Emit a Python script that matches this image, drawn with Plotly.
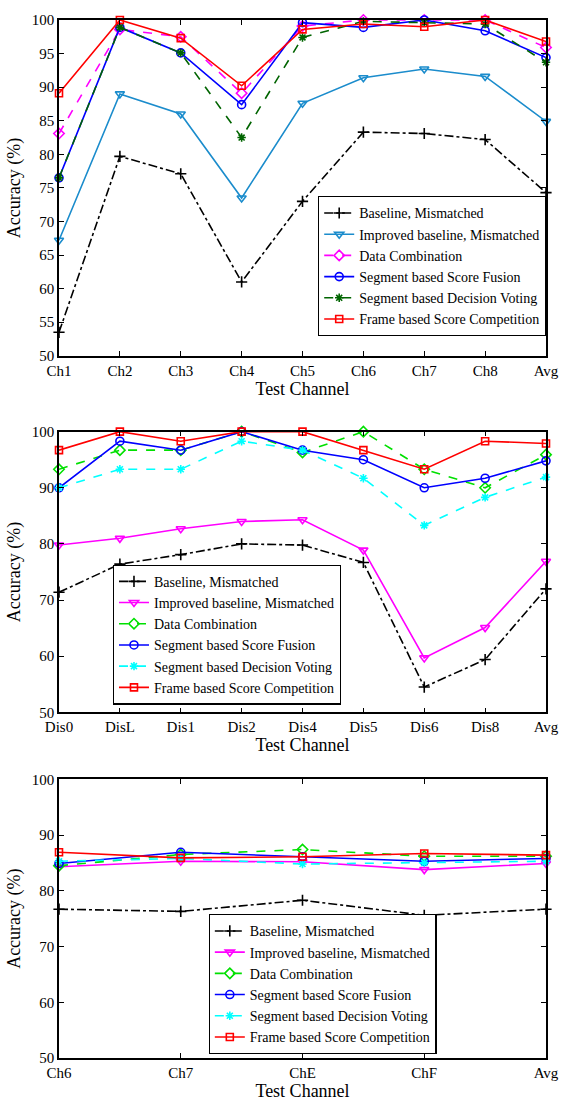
import plotly.graph_objects as go

# ---------------- data ----------------
names = ["Baseline, Mismatched", "Improved baseline, Mismatched", "Data Combination",
         "Segment based Score Fusion", "Segment based Decision Voting",
         "Frame based Score Competition"]

cats1 = ["Ch1", "Ch2", "Ch3", "Ch4", "Ch5", "Ch6", "Ch7", "Ch8", "Avg"]
p1_baseline = [53.5, 79.7, 77.1, 61.0, 73.0, 83.3, 83.1, 82.2, 74.3]
p1_improved = [67.2, 89.0, 86.0, 73.5, 87.6, 91.4, 92.7, 91.6, 84.9]
p1_datacomb = [83.1, 98.6, 97.5, 89.1, 99.1, 100.0, 100.0, 100.0, 95.9]
p1_fusion = [76.5, 98.9, 95.1, 87.4, 99.6, 98.9, 100.0, 98.4, 94.4]
p1_voting = [76.5, 98.9, 95.1, 82.5, 97.4, 99.8, 99.6, 99.4, 93.7]
p1_frame = [89.1, 100.0, 97.3, 90.2, 98.6, 99.4, 99.0, 100.0, 96.8]

cats2 = ["Dis0", "DisL", "Dis1", "Dis2", "Dis4", "Dis5", "Dis6", "Dis8", "Avg"]
p2_baseline = [71.4, 76.4, 78.1, 80.0, 79.8, 76.7, 54.5, 59.4, 72.0]
p2_improved = [79.8, 81.0, 82.7, 84.0, 84.3, 78.9, 59.7, 65.1, 76.9]
p2_datacomb = [93.3, 96.7, 96.7, 100.0, 96.3, 100.0, 93.3, 90.0, 95.9]
p2_fusion = [90.0, 98.3, 96.7, 100.0, 96.7, 95.0, 90.0, 91.7, 94.8]
p2_voting = [90.0, 93.3, 93.3, 98.3, 96.7, 91.7, 83.3, 88.3, 91.9]
p2_frame = [96.7, 100.0, 98.3, 100.0, 100.0, 96.7, 93.3, 98.3, 97.9]

cats3 = ["Ch6", "Ch7", "ChE", "ChF", "Avg"]
p3_baseline = [76.7, 76.3, 78.3, 75.6, 76.7]
p3_improved = [84.3, 85.3, 85.2, 83.8, 84.9]
p3_datacomb = [84.5, 86.5, 87.4, 86.2, 86.2]
p3_fusion = [84.9, 86.9, 86.1, 85.3, 85.8]
p3_voting = [85.3, 85.8, 84.8, 85.0, 85.3]
p3_frame = [86.9, 85.9, 86.1, 86.7, 86.4]

yticks1 = [50, 55, 60, 65, 70, 75, 80, 85, 90, 95, 100]
yticks23 = [50, 60, 70, 80, 90, 100]

# ---------------- styles ----------------
FONT = "Liberation Serif, Times New Roman, serif"
symbols = ["cross-thin-open", "triangle-down-open", "diamond-open",
           "circle-open", "asterisk-open", "square-open"]
sizes = [8, 8, 8, 8, 7, 7]
dashes = ["dashdot", "solid", "dash", "solid", "dash", "solid"]
colors1 = ["black", "#1b8ccc", "#ff00ff", "#0000ff", "#006400", "#ff0000"]
colors23 = ["black", "#ff00ff", "#00e000", "#0000ff", "#00ffff", "#ff0000"]

fig = go.Figure()

panels = [
    (cats1, [p1_baseline, p1_improved, p1_datacomb, p1_fusion, p1_voting, p1_frame], colors1, "", "legend"),
    (cats2, [p2_baseline, p2_improved, p2_datacomb, p2_fusion, p2_voting, p2_frame], colors23, "2", "legend2"),
    (cats3, [p3_baseline, p3_improved, p3_datacomb, p3_fusion, p3_voting, p3_frame], colors23, "3", "legend3"),
]

for cats, series, cols, ax, leg in panels:
    for i, (nm, ys) in enumerate(zip(names, series)):
        fig.add_trace(go.Scatter(
            x=cats, y=ys, name=nm, mode="lines+markers",
            xaxis="x" + ax, yaxis="y" + ax, legend=leg,
            line=dict(color=cols[i], width=1.6, dash=dashes[i]),
            marker=dict(symbol=symbols[i], size=sizes[i],
                        color=cols[i], line=dict(color=cols[i], width=1.6)),
            cliponaxis=False,
        ))

# domains
H = 1054.0
def dom(top_px, bot_px):
    return [(1069 - bot_px) / H, (1069 - top_px) / H]

axis_common = dict(showline=True, linecolor="black", linewidth=1.5, mirror="ticks",
                   ticks="inside", ticklen=5, tickcolor="black", showgrid=False,
                   zeroline=False, tickfont=dict(family=FONT, size=15, color="black"))

def xaxis(cats, anchor):
    return dict(axis_common, type="category", range=[0, len(cats) - 1], anchor=anchor,
                domain=[0, 1], ticklabelstandoff=0,
                title=dict(text="Test Channel", font=dict(family=FONT, size=18, color="black"),
                           standoff=0))

def yaxis(ticks, domain, anchor):
    return dict(axis_common, range=[50, 100], tickvals=ticks, domain=domain, anchor=anchor,
                title=dict(text="Accuracy (%)", font=dict(family=FONT, size=18, color="black"),
                           standoff=6))

legend_common = dict(bgcolor="white", bordercolor="black", borderwidth=1.2,
                     font=dict(family=FONT, size=14, color="black"),
                     yanchor="middle", tracegroupgap=0, itemwidth=30)

fig.update_layout(
    width=571, height=1105,
    margin=dict(l=59, r=14, t=15, b=36),
    paper_bgcolor="white", plot_bgcolor="white",
    xaxis=xaxis(cats1, "y"),
    yaxis=yaxis(yticks1, dom(15, 356), "x"),
    xaxis2=xaxis(cats2, "y2"),
    yaxis2=yaxis(yticks23, dom(433, 718), "x2"),
    xaxis3=xaxis(cats3, "y3"),
    yaxis3=yaxis(yticks23, dom(786, 1069), "x3"),
    legend=dict(legend_common, x=1.0, xanchor="right", y=(1069 - 265) / H),
    legend2=dict(legend_common, x=(114 - 59) / 498, xanchor="left", y=(1069 - 639) / H),
    legend3=dict(legend_common, x=(212 - 59) / 498, xanchor="left", y=(1069 - 994) / H),
    font=dict(family=FONT, color="black"),
)

fig.write_html("out.html")
